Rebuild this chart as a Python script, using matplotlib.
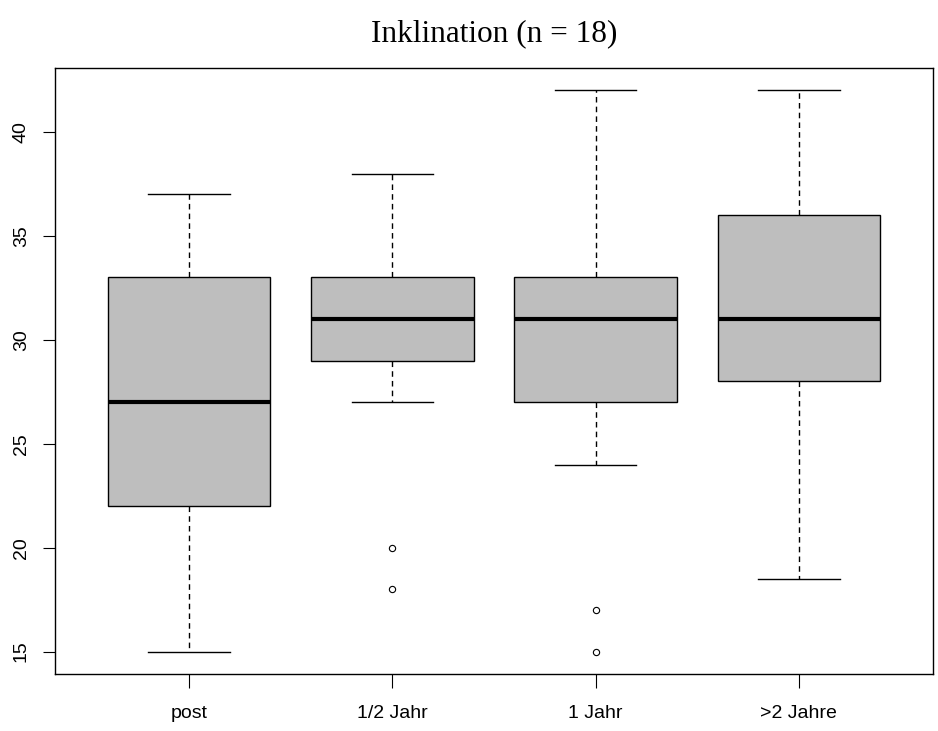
import matplotlib.pyplot as plt

# Data
groups = ["post", "1/2 Jahr", "1 Jahr", ">2 Jahre"]
whislo = [15, 27, 24, 18.5]
q1 = [22, 29, 27, 28]
med = [27, 31, 31, 31]
q3 = [33, 33, 33, 36]
whishi = [37, 38, 42, 42]
fliers = [[], [20, 18], [17, 15], []]

stats = [
    dict(label=g, whislo=lo, q1=a, med=m, q3=b, whishi=hi, fliers=f)
    for g, lo, a, m, b, hi, f in zip(groups, whislo, q1, med, q3, whishi, fliers)
]

fig = plt.figure(figsize=(9.38, 7.31), dpi=100)
ax = fig.add_axes([0.0586, 0.078, 0.9361, 0.829])

ax.bxp(stats, positions=[1, 2, 3, 4], widths=0.8, patch_artist=True,
       boxprops=dict(facecolor="#bebebe", edgecolor="black", linewidth=1),
       medianprops=dict(color="black", linewidth=3),
       whiskerprops=dict(color="black", linestyle=(0, (4, 3)), linewidth=1),
       capprops=dict(color="black", linewidth=1), capwidths=0.4,
       flierprops=dict(marker="o", markerfacecolor="white", markeredgecolor="black",
                       markersize=4.5, markeredgewidth=0.8))

ax.set_xlim(0.34, 4.66)
ax.set_ylim(13.92, 43.08)
ax.set_yticks([15, 20, 25, 30, 35, 40])
ax.tick_params(axis="y", labelrotation=90, labelsize=14, length=9, pad=9)
ax.tick_params(axis="x", labelsize=14, length=10, pad=12)
for lab in ax.get_yticklabels():
    lab.set_fontfamily("Liberation Sans")
    lab.set_va("center")
for lab in ax.get_xticklabels():
    lab.set_fontfamily("Liberation Sans")
for s in ax.spines.values():
    s.set_linewidth(1)

ax.set_title("Inklination (n = 18)", fontfamily="Liberation Serif", fontsize=22.5, pad=19)

fig.savefig("out.png", dpi=100)
